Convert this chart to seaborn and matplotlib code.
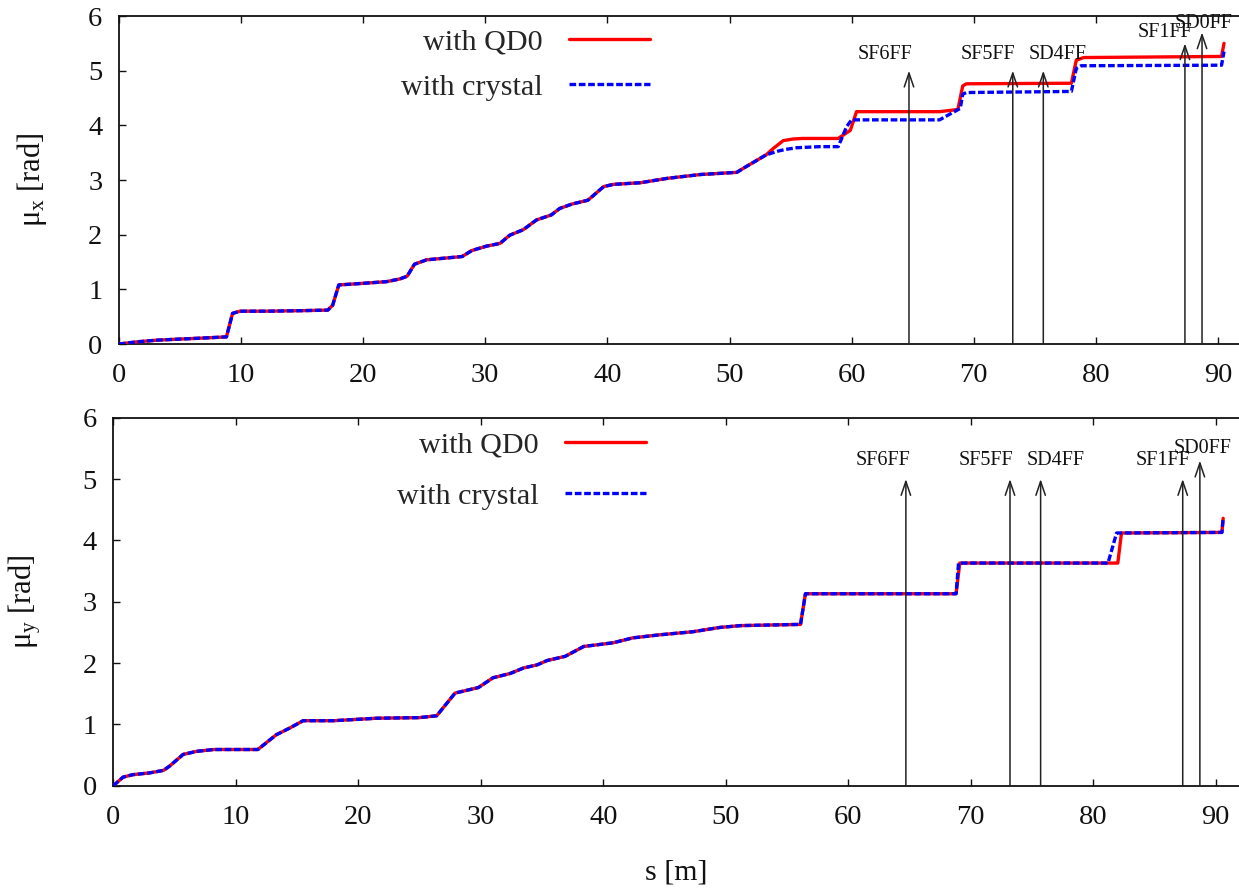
import matplotlib
matplotlib.use("Agg")
import matplotlib.pyplot as plt
import seaborn as sns

# ---- horizontal phase advance mu_x along s ----
s_x_qd0 = [0, 1.5, 3.1, 5, 7, 8.8, 9.3, 9.9, 12, 15, 17.1, 17.5, 18.0, 20.0, 21.9, 23.0,
           23.6, 24.2, 25.2, 28.1, 28.9, 30.1, 31.2, 32.0, 33.1, 34.2, 35.4, 36.1, 37.1,
           38.4, 39.7, 40.5, 42.7, 44.9, 47.6, 50.6, 51.1, 53.0, 53.6, 54.4, 55.2, 56.0,
           58.9, 59.9, 60.4, 67.2, 68.7, 69.1, 69.4, 78.0, 78.4, 79.0, 90.3, 90.5]
mux_qd0 = [0, 0.04, 0.07, 0.09, 0.11, 0.13, 0.56, 0.60, 0.60, 0.61, 0.62, 0.71, 1.08, 1.11,
           1.14, 1.19, 1.24, 1.46, 1.54, 1.60, 1.71, 1.79, 1.84, 1.99, 2.09, 2.27, 2.36,
           2.48, 2.56, 2.63, 2.88, 2.92, 2.95, 3.03, 3.10, 3.14, 3.21, 3.46, 3.58, 3.72,
           3.75, 3.76, 3.76, 3.91, 4.25, 4.25, 4.29, 4.72, 4.76, 4.77, 5.19, 5.24, 5.26, 5.50]

s_x_crystal = [0, 1.5, 3.1, 5, 7, 8.8, 9.3, 9.9, 12, 15, 17.1, 17.5, 18.0, 20.0, 21.9, 23.0,
               23.6, 24.2, 25.2, 28.1, 28.9, 30.1, 31.2, 32.0, 33.1, 34.2, 35.4, 36.1, 37.1,
               38.4, 39.7, 40.5, 42.7, 44.9, 47.6, 50.6, 51.1, 53.0, 54.0, 54.6, 55.5, 57.4,
               58.9, 59.6, 60.0, 67.2, 68.9, 69.1, 69.4, 78.0, 78.4, 78.8, 90.3, 90.5]
mux_crystal = [0, 0.04, 0.07, 0.09, 0.11, 0.13, 0.56, 0.60, 0.60, 0.61, 0.62, 0.71, 1.08, 1.11,
               1.14, 1.19, 1.24, 1.46, 1.54, 1.60, 1.71, 1.79, 1.84, 1.99, 2.09, 2.27, 2.36,
               2.48, 2.56, 2.63, 2.88, 2.92, 2.95, 3.03, 3.10, 3.14, 3.21, 3.46, 3.53, 3.56,
               3.59, 3.61, 3.61, 3.98, 4.10, 4.10, 4.31, 4.57, 4.60, 4.62, 5.04, 5.09, 5.10, 5.35]

# ---- vertical phase advance mu_y along s ----
s_y_qd0 = [0, 0.8, 1.6, 3.0, 4.1, 4.6, 5.7, 6.8, 8.2, 11.8, 13.3, 14.4, 15.5, 18.0, 21.5,
           25.0, 26.4, 27.9, 29.8, 31.0, 32.4, 33.5, 34.6, 35.4, 36.9, 38.4, 40.8, 42.4,
           44.6, 47.3, 49.5, 51.2, 56.1, 56.5, 68.8, 69.1, 82.0, 82.3, 90.5, 90.6]
muy_qd0 = [0, 0.14, 0.18, 0.21, 0.25, 0.32, 0.51, 0.56, 0.59, 0.59, 0.83, 0.94, 1.06, 1.06,
           1.10, 1.11, 1.14, 1.51, 1.60, 1.76, 1.83, 1.92, 1.97, 2.04, 2.11, 2.27, 2.33,
           2.41, 2.46, 2.51, 2.58, 2.61, 2.63, 3.13, 3.13, 3.63, 3.63, 4.12, 4.13, 4.36]

s_y_crystal = [0, 0.8, 1.6, 3.0, 4.1, 4.6, 5.7, 6.8, 8.2, 11.8, 13.3, 14.4, 15.5, 18.0, 21.5,
               25.0, 26.4, 27.9, 29.8, 31.0, 32.4, 33.5, 34.6, 35.4, 36.9, 38.4, 40.8, 42.4,
               44.6, 47.3, 49.5, 51.2, 56.1, 56.5, 68.8, 69.0, 81.2, 81.9, 90.5, 90.6]
muy_crystal = [0, 0.14, 0.18, 0.21, 0.25, 0.32, 0.51, 0.56, 0.59, 0.59, 0.83, 0.94, 1.06, 1.06,
               1.10, 1.11, 1.14, 1.51, 1.60, 1.76, 1.83, 1.92, 1.97, 2.04, 2.11, 2.27, 2.33,
               2.41, 2.46, 2.51, 2.58, 2.61, 2.63, 3.13, 3.13, 3.63, 3.63, 4.12, 4.13, 4.36]

# ---- sextupole markers ----
magnet_names = ["SF6FF", "SF5FF", "SD4FF", "SF1FF", "SD0FF"]
magnet_s = [64.7, 73.2, 75.7, 87.3, 88.7]
arrow_tip_x = [5.0, 5.0, 5.0, 5.5, 5.7]
label_s_x = [62.7, 71.2, 76.9, 85.7, 88.8]
label_mu_x = [5.29, 5.29, 5.29, 5.69, 5.87]
arrow_tip_y = [5.0, 5.0, 5.0, 5.0, 5.3]
label_s_y = [62.8, 71.2, 76.9, 85.7, 88.9]
label_mu_y = [5.31, 5.31, 5.31, 5.31, 5.50]

x_ticks = [0, 10, 20, 30, 40, 50, 60, 70, 80, 90]
y_ticks = [0, 1, 2, 3, 4, 5, 6]

sns.set_theme(style="ticks")
plt.rcParams["font.family"] = ["Liberation Serif", "DejaVu Serif"]
plt.rcParams["mathtext.fontset"] = "custom"
plt.rcParams["mathtext.rm"] = "Liberation Serif"
plt.rcParams["mathtext.it"] = "Liberation Serif:italic"

W, H = 1239, 890
fig = plt.figure(figsize=(W / 100, H / 100), dpi=100)
fig.patch.set_facecolor("white")


def px_axes(left, top, right, bottom):
    return fig.add_axes([left / W, 1 - bottom / H, (right - left) / W, (bottom - top) / H])


XMAX = 92.0
ax_top = px_axes(119, 16, 119 + XMAX * 12.21, 344)
ax_bot = px_axes(113.3, 417.7, 113.3 + XMAX * 12.25, 785.7)

red = "#ff0000"
blue = "#0000ff"
blue_dash = (0, (2.0, 0.8))

panels = [
    (ax_top, s_x_qd0, mux_qd0, s_x_crystal, mux_crystal, arrow_tip_x, label_s_x, label_mu_x),
    (ax_bot, s_y_qd0, muy_qd0, s_y_crystal, muy_crystal, arrow_tip_y, label_s_y, label_mu_y),
]

for ax, sq, mq, sc, mc, tips, lsx, lmu in panels:
    sns.lineplot(x=sq, y=mq, ax=ax, sort=False, estimator=None, color=red,
                 linewidth=2.4, label="with QD0", zorder=3)
    sns.lineplot(x=sc, y=mc, ax=ax, sort=False, estimator=None, color=blue,
                 linewidth=2.4, linestyle=blue_dash, label="with crystal", zorder=4)

    for name, sm, tip, tx, ty in zip(magnet_names, magnet_s, tips, lsx, lmu):
        ax.annotate("", xy=(sm, tip), xytext=(sm, 0),
                    arrowprops=dict(arrowstyle="->,head_length=0.5,head_width=0.17",
                                    mutation_scale=20, lw=1.1, color="#222222",
                                    shrinkA=0, shrinkB=0),
                    zorder=5)
        ax.text(tx, ty, name, ha="center", va="center", fontsize=14.5,
                color="#111111", zorder=6, clip_on=False)

    ax.set_xlim(0, XMAX)
    ax.set_ylim(0, 6)
    ax.set_xticks(x_ticks)
    ax.set_yticks(y_ticks)
    ax.tick_params(axis="both", direction="in", length=5, width=1.0,
                   labelsize=20.5, colors="#111111", top=True, right=False)
    ax.tick_params(axis="x", pad=14)
    ax.tick_params(axis="y", pad=12)
    for side in ("left", "bottom", "top"):
        ax.spines[side].set_visible(True)
        ax.spines[side].set_linewidth(1.3)
        ax.spines[side].set_color("#111111")
    ax.spines["right"].set_visible(False)
    ax.set_xlabel("")
    ax.set_ylabel("")

# legends: text on the left, sample line on the right
legend_spots = [(ax_top, 650, 28, 0.62), (ax_bot, 646, 431, 0.82)]
for ax, rx, ty, spacing in legend_spots:
    leg = ax.legend(loc="upper right", bbox_to_anchor=(rx / W, 1 - ty / H),
                    bbox_transform=fig.transFigure, frameon=False, markerfirst=False,
                    fontsize=21.7, handlelength=2.7, handletextpad=0.85,
                    labelspacing=spacing, borderpad=0, borderaxespad=0)
    for col in leg._legend_handle_box.get_children():
        col.align = "right"

fig.text(32 / W, 1 - 180 / H, r"μ$_\mathrm{x}$ [rad]", rotation=90,
         ha="center", va="center", fontsize=22, color="#111111")
fig.text(25 / W, 1 - 602 / H, r"μ$_\mathrm{y}$ [rad]", rotation=90,
         ha="center", va="center", fontsize=22, color="#111111")
fig.text(676 / W, 1 - 873 / H, "s [m]", ha="center", va="center",
         fontsize=21.5, color="#111111")

fig.savefig("out.png", dpi=100, facecolor="white")
